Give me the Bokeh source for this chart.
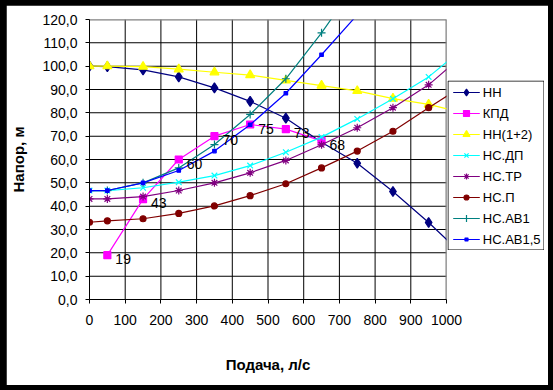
from bokeh.plotting import figure
from bokeh.models import Range1d, FixedTicker, ColumnDataSource
from bokeh.core.properties import value
from bokeh.embed import file_html
from bokeh.resources import INLINE

# ---- data ----
x_main = [0, 50, 150, 250, 350, 450, 550, 650, 750, 850, 950, 1050]
hh = [100.0, 99.8, 98.4, 95.4, 90.7, 84.9, 77.7, 67.4, 58.4, 46.3, 33.0, 18.5]
hh12 = [100.0, 100.0, 99.8, 98.7, 97.4, 96.2, 93.9, 91.7, 89.4, 86.1, 83.6, 79.8]
ns_dp = [46.7, 46.7, 47.9, 50.3, 53.1, 57.4, 63.1, 69.6, 77.4, 86.0, 95.4, 108.0]
ns_tr = [43.1, 43.1, 44.1, 46.7, 50.0, 54.3, 59.6, 66.3, 73.6, 82.2, 92.0, 105.2]
ns_p = [33.1, 33.7, 34.6, 36.9, 40.1, 44.5, 49.6, 56.4, 63.6, 72.1, 82.2, 92.0]

x_ab = [0, 50, 150, 250, 350, 450, 550, 650, 750]
ns_ab1 = [46.7, 46.7, 50.0, 56.4, 66.4, 79.3, 94.6, 114.3, 136.0]
ns_ab15 = [46.7, 46.7, 50.0, 55.3, 63.6, 74.9, 88.4, 104.9, 122.0]

x_kpd = [50, 150, 250, 350, 450, 550, 650]
kpd = [19, 43, 60, 70, 75, 73, 68]
kpd_labels = ["19", "43", "60", "70", "75", "73", "68"]

x_ticks = [0, 100, 200, 300, 400, 500, 600, 700, 800, 900, 1000]
y_ticks = [0, 10, 20, 30, 40, 50, 60, 70, 80, 90, 100, 110, 120]
y_tick_labels = ["0,0", "10,0", "20,0", "30,0", "40,0", "50,0", "60,0",
                 "70,0", "80,0", "90,0", "100,0", "110,0", "120,0"]

series_names = ["НН", "КПД", "НН(1+2)", "НС.ДП", "НС.ТР", "НС.П", "НС.АВ1", "НС.АВ1,5"]

FONT = "Liberation Sans"

p = figure(width=542, height=380, output_backend="svg", toolbar_location=None,
           x_range=Range1d(0, 1000), y_range=Range1d(0, 120),
           min_border_left=83, min_border_right=102, min_border_top=14,
           min_border_bottom=86)
p.background_fill_color = "white"
p.border_fill_color = "white"
p.outline_line_color = None

# axes
p.xaxis.ticker = FixedTicker(ticks=x_ticks)
p.yaxis.ticker = FixedTicker(ticks=y_ticks)
p.yaxis.major_label_overrides = {t: l for t, l in zip(y_ticks, y_tick_labels)}
for ax in (p.xaxis[0], p.yaxis[0]):
    ax.axis_line_color = "black"
    ax.major_tick_line_color = "black"
    ax.minor_tick_line_color = None
    ax.major_tick_in = 0
    ax.major_tick_out = 4
    ax.major_label_text_font = FONT
    ax.major_label_text_font_size = "14px"
    ax.major_label_text_color = "black"
    ax.axis_label_text_font = FONT
    ax.axis_label_text_font_size = "15px"
    ax.axis_label_text_font_style = "bold"
    ax.axis_label_text_color = "black"
p.xaxis.major_label_standoff = 11
p.yaxis.major_label_standoff = 8
p.xaxis.axis_label = "Подача, л/с"
p.yaxis.axis_label = "Напор, м"
p.xaxis.axis_label_standoff = 28
p.yaxis.axis_label_standoff = 12

# grid lines: thin filled rects at the tick positions (1 screen pixel wide)
p.xgrid.grid_line_color = None
p.ygrid.grid_line_color = None
gx = x_ticks[1:-1]
gy = y_ticks[1:-1]
y_mid = (y_ticks[0] + y_ticks[-1]) / 2
y_span = y_ticks[-1] - y_ticks[0]
x_mid = (x_ticks[0] + x_ticks[-1]) / 2
x_span = x_ticks[-1] - x_ticks[0]
p.rect(x=gx, y=[y_mid] * len(gx), width=1, height=y_span,
       width_units="screen", height_units="data",
       fill_color="black", line_color=None)
p.rect(x=[x_mid] * len(gy), y=gy, width=x_span, height=1,
       width_units="data", height_units="screen",
       fill_color="black", line_color=None)
# grey plot-area border (top and right)
p.rect(x=[x_ticks[-1]], y=[y_mid], width=2, height=y_span,
       width_units="screen", height_units="data",
       fill_color="#808080", line_color=None)
p.rect(x=[x_mid], y=[y_ticks[-1]], width=x_span, height=2,
       width_units="data", height_units="screen",
       fill_color="#808080", line_color=None)

styles = [("#000080", "diamond", 10, 7),
          ("#FF00FF", "square", 7, 6),
          ("#FFFF00", "triangle", 9, 7),
          ("#00FFFF", "x", 8, 6),
          ("#800080", "asterisk", 8, 6),
          ("#800000", "circle", 6, 5),
          ("#008080", "cross", 8, 7),
          ("#0000FF", "square", 3.5, 3)]
xs_list = [x_main, x_kpd, x_main, x_main, x_main, x_main, x_ab, x_ab]
ys_list = [hh, kpd, hh12, ns_dp, ns_tr, ns_p, ns_ab1, ns_ab15]

for xs, ys, (color, marker, size, _) in zip(xs_list, ys_list, styles):
    src = ColumnDataSource(dict(x=xs, y=ys))
    p.line("x", "y", source=src, line_color=color, line_width=1.2)
    p.scatter("x", "y", source=src, marker=marker, size=size,
              fill_color=color, line_color=color, line_width=1.2)

# data labels for КПД
p.text(x=x_kpd, y=kpd, text=kpd_labels, x_offset=8, y_offset=4,
       text_baseline="middle", text_align="left",
       text_font=value(FONT), text_font_size="14px", text_color="black")

# ---- legend panel (separate small figure, laid over the right side) ----
LW, LH = 97, 170
lg = figure(width=LW, height=LH, output_backend="svg", toolbar_location=None,
            x_range=Range1d(0, LW), y_range=Range1d(0, LH),
            x_axis_type=None, y_axis_type=None, min_border=0)
lg.background_fill_color = "white"
lg.border_fill_color = "white"
lg.outline_line_color = None
lg.quad(left=[0.5], right=[LW - 0.5], bottom=[0.5], top=[LH - 0.5],
        fill_color="white", line_color="black", line_width=1)
row_y = [LH - 12 - 21 * k for k in range(len(series_names))]
for yk, name, (color, marker, _, lsize) in zip(row_y, series_names, styles):
    lg.line(x=[5.7, 32.3], y=[yk, yk], line_color=color, line_width=1.2)
    lg.scatter(x=[19], y=[yk], marker=marker, size=lsize,
               fill_color=color, line_color=color, line_width=1.2)
lg.text(x=[35.3] * len(series_names), y=row_y, text=series_names,
        text_baseline="middle", text_align="left",
        text_font=value(FONT), text_font_size="13px", text_color="black")

html = file_html([p, lg], INLINE)
style = ("<style>html, body { background-color: #000000 !important; } "
         "body { padding: 5px 0 0 6px !important; box-sizing: border-box; } "
         "body > div:nth-of-type(2) > * , "
         "body > div:nth-of-type(2):not([style*='contents']) "
         "{ position: absolute !important; left: 447px !important; top: 80px !important; }"
         "</style>")
html = html.replace("</head>", style + "</head>", 1)
open("out.html", "w").write(html)
